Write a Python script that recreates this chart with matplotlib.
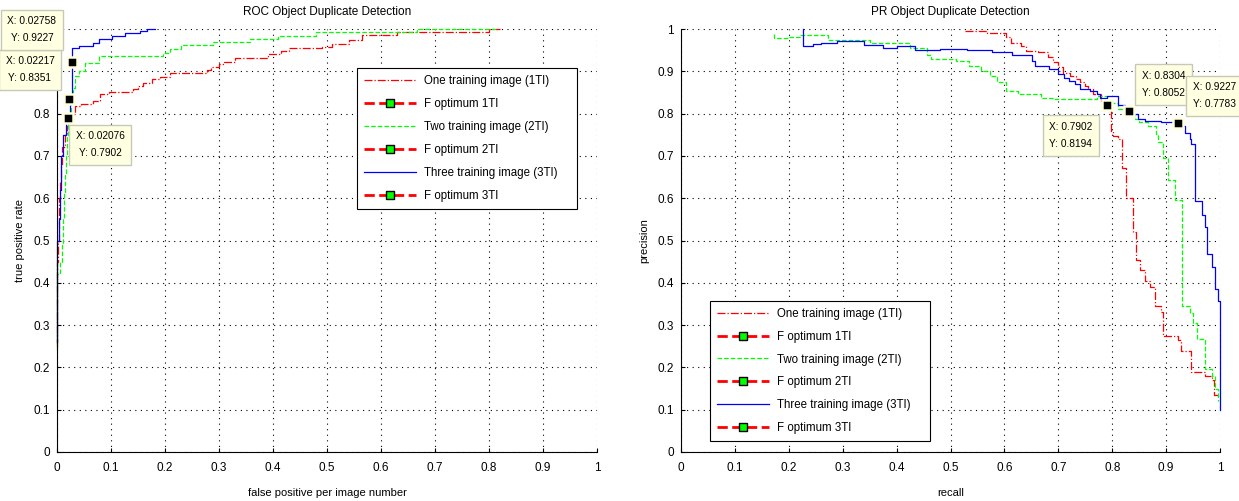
import numpy as np
import matplotlib
matplotlib.use('Agg')
import matplotlib.pyplot as plt

plt.rcParams['font.family'] = ['Liberation Sans', 'DejaVu Sans']
plt.rcParams['font.size'] = 8

# ---- ROC data (false positive per image, true positive rate) ----
roc1_x = [0, 0, 0.002, 0.003, 0.005, 0.007, 0.010, 0.014, 0.018, 0.021, 0.025, 0.033, 0.045, 0.067,
          0.080, 0.096, 0.14, 0.15, 0.16, 0.175, 0.19, 0.21, 0.278, 0.286, 0.30, 0.31, 0.33, 0.39,
          0.415, 0.43, 0.49, 0.51, 0.54, 0.565, 0.63, 0.80, 0.82]
roc1_y = [0.25, 0.45, 0.50, 0.60, 0.64, 0.68, 0.72, 0.75, 0.77, 0.79, 0.80, 0.818, 0.822, 0.83,
          0.846, 0.85, 0.858, 0.866, 0.873, 0.881, 0.887, 0.897, 0.903, 0.909, 0.917, 0.923, 0.931, 0.94,
          0.948, 0.954, 0.957, 0.964, 0.973, 0.986, 0.993, 1.0, 1.0]
roc2_x = [0, 0, 0.005, 0.009, 0.011, 0.013, 0.015, 0.017, 0.019, 0.020, 0.022, 0.026, 0.030, 0.034,
          0.040, 0.052, 0.077, 0.197, 0.21, 0.23, 0.289, 0.357, 0.41, 0.48, 0.667, 0.815]
roc2_y = [0.24, 0.42, 0.45, 0.49, 0.55, 0.61, 0.66, 0.705, 0.75, 0.78, 0.80, 0.835, 0.86, 0.89,
          0.90, 0.92, 0.936, 0.944, 0.952, 0.962, 0.97, 0.976, 0.983, 0.993, 1.0, 1.0]
roc3_x = [0, 0, 0.003, 0.005, 0.008, 0.012, 0.017, 0.022, 0.024, 0.027, 0.040, 0.067, 0.077, 0.101,
          0.126, 0.154, 0.166, 0.181]
roc3_y = [0.26, 0.50, 0.55, 0.62, 0.70, 0.75, 0.78, 0.80, 0.83, 0.955, 0.96, 0.968, 0.976, 0.984,
          0.99, 0.995, 1.0, 1.0]

# ---- PR data (recall, precision) ----
pr1_x = [0.527, 0.567, 0.603, 0.612, 0.631, 0.64, 0.662, 0.68, 0.69, 0.699, 0.709, 0.721, 0.733, 0.74,
         0.749, 0.755, 0.764, 0.779, 0.79, 0.798, 0.802, 0.811, 0.818, 0.826, 0.839, 0.845, 0.852, 0.86,
         0.87, 0.879, 0.89, 0.894, 0.922, 0.927, 0.947, 0.972, 0.985, 0.988, 0.997]
pr1_y = [0.996, 0.99, 0.98, 0.968, 0.96, 0.949, 0.945, 0.933, 0.921, 0.909, 0.897, 0.889, 0.881, 0.874,
         0.866, 0.858, 0.846, 0.83, 0.819, 0.76, 0.747, 0.74, 0.672, 0.60, 0.52, 0.455, 0.43, 0.405,
         0.39, 0.344, 0.33, 0.275, 0.265, 0.238, 0.19, 0.18, 0.17, 0.135, 0.135]
pr2_x = [0.173, 0.173, 0.19, 0.20, 0.221, 0.273, 0.351, 0.40, 0.425, 0.456, 0.463, 0.51, 0.535, 0.556,
         0.574, 0.587, 0.603, 0.625, 0.668, 0.692, 0.771, 0.79, 0.81, 0.825, 0.843, 0.85, 0.866, 0.882,
         0.885, 0.895, 0.904, 0.917, 0.929, 0.944, 0.95, 0.957, 0.972, 0.985, 0.991, 0.997]
pr2_y = [0.988, 0.978, 0.978, 0.98, 0.986, 0.975, 0.966, 0.968, 0.954, 0.938, 0.93, 0.925, 0.913, 0.901,
         0.889, 0.874, 0.854, 0.846, 0.838, 0.834, 0.842, 0.825, 0.81, 0.797, 0.787, 0.779, 0.771, 0.751,
         0.733, 0.695, 0.642, 0.596, 0.346, 0.328, 0.304, 0.268, 0.196, 0.18, 0.15, 0.12]
pr3_x = [0.227, 0.227, 0.245, 0.26, 0.29, 0.34, 0.375, 0.40, 0.435, 0.48, 0.53, 0.577, 0.614, 0.651,
         0.657, 0.683, 0.70, 0.71, 0.72, 0.731, 0.741, 0.759, 0.771, 0.777, 0.79, 0.806, 0.81, 0.823,
         0.836, 0.848, 0.86, 0.89, 0.929, 0.935, 0.944, 0.947, 0.954, 0.966, 0.972, 0.975, 0.985, 0.99,
         0.997, 1.0]
pr3_y = [1.0, 0.96, 0.964, 0.968, 0.972, 0.962, 0.954, 0.96, 0.951, 0.953, 0.951, 0.945, 0.938, 0.925,
         0.913, 0.905, 0.893, 0.885, 0.878, 0.87, 0.858, 0.854, 0.846, 0.838, 0.842, 0.842, 0.82, 0.81,
         0.799, 0.787, 0.783, 0.779, 0.771, 0.755, 0.739, 0.727, 0.593, 0.56, 0.532, 0.468, 0.437, 0.385,
         0.358, 0.1]

# F optimum points (data tips)
roc_fopt_x = [0.02076, 0.02217, 0.02758]
roc_fopt_y = [0.7902, 0.8351, 0.9227]
pr_fopt_x = [0.7902, 0.8304, 0.9227]
pr_fopt_y = [0.8194, 0.8052, 0.7783]

labels = ['One training image (1TI)', 'F optimum 1TI', 'Two training image (2TI)',
          'F optimum 2TI', 'Three training image (3TI)', 'F optimum 3TI']
ticks = np.arange(0, 1.01, 0.1)
tick_labels = ['0', '0.1', '0.2', '0.3', '0.4', '0.5', '0.6', '0.7', '0.8', '0.9', '1']
# 0.9 and 1 sit under the data tips on the ROC y axis
roc_ytick_labels = tick_labels[:9] + ['', '']

W, H = 1239, 501
fig = plt.figure(figsize=(W / 100, H / 100), dpi=100)
ax1 = fig.add_axes([57 / W, 1 - 452 / H, 540 / W, 423 / H])
ax2 = fig.add_axes([681 / W, 1 - 452 / H, 539 / W, 423 / H])


def style(ax, ylabels):
    ax.set_xlim(0, 1)
    ax.set_ylim(0, 1)
    ax.set_xticks(ticks)
    ax.set_yticks(ticks)
    ax.set_xticklabels(tick_labels)
    ax.set_yticklabels(ylabels)
    ax.grid(True, color='k', linestyle=(0, (1, 4)), linewidth=0.8)
    ax.spines['top'].set_visible(False)
    ax.spines['right'].set_visible(False)
    ax.tick_params(direction='in', length=3, width=0.8, labelsize=8.5, pad=5)
    ax.tick_params(axis='x', pad=7)


def datatip(ax, x, y, dx, dy):
    ax.plot(x, y, 's', ms=6.5, mfc='k', mec='#ffffe0', mew=1.8, zorder=9, clip_on=False)
    ax.annotate('X: %s\nY: %s' % (x, y), (x, y), xytext=(dx, dy), textcoords='offset pixels',
                ha='center', va='center', fontsize=7.3, linespacing=1.9, zorder=10,
                annotation_clip=False,
                bbox=dict(boxstyle='square,pad=0.65', fc='#ffffe1', ec='#c8c8b8', lw=1))


def draw(ax, xs, ys, fx, fy):
    styles = [('r', '-.'), ('#00ff00', '--'), ('b', '-')]
    handles = []
    for (c, ls), x, y, px, py in zip(styles, xs, ys, fx, fy):
        l, = ax.plot(x, y, color=c, linestyle=ls, lw=0.9, drawstyle='steps-post', clip_on=False)
        f, = ax.plot([px], [py], color='r', linestyle='--', lw=2, marker='s', ms=6,
                     mfc='#00ff00', mec='k', mew=1)
        handles += [l, f]
    return handles


h1 = draw(ax1, [roc1_x, roc2_x, roc3_x], [roc1_y, roc2_y, roc3_y], roc_fopt_x, roc_fopt_y)
style(ax1, roc_ytick_labels)
ax1.set_title('ROC Object Duplicate Detection', fontsize=8.5, pad=10)
ax1.set_xlabel('false positive per image number', fontsize=8, labelpad=10)
ax1.set_ylabel('true positive rate', fontsize=8, labelpad=6)
datatip(ax1, roc_fopt_x[0], roc_fopt_y[0], 32, -27)
datatip(ax1, roc_fopt_x[1], roc_fopt_y[1], -39, 29)
datatip(ax1, roc_fopt_x[2], roc_fopt_y[2], -40, 32)

h2 = draw(ax2, [pr1_x, pr2_x, pr3_x], [pr1_y, pr2_y, pr3_y], pr_fopt_x, pr_fopt_y)
style(ax2, tick_labels)
ax2.set_title('PR Object Duplicate Detection', fontsize=8.5, pad=10)
ax2.set_xlabel('recall', fontsize=8, labelpad=10)
ax2.set_ylabel('precision', fontsize=8, labelpad=6)
datatip(ax2, pr_fopt_x[0], pr_fopt_y[0], -36, -30)
datatip(ax2, pr_fopt_x[1], pr_fopt_y[1], 35, 27)
datatip(ax2, pr_fopt_x[2], pr_fopt_y[2], 36, 27)

for ax, h, (x0, y0, x1, y1) in [(ax1, h1, (351, 66, 583, 211)), (ax2, h2, (704, 298, 936, 444))]:
    leg = ax.legend(h, labels, loc='center',
                    bbox_to_anchor=(x0 / W, 1 - y1 / H, (x1 - x0) / W, (y1 - y0) / H),
                    bbox_transform=fig.transFigure, mode='expand', fontsize=8.3,
                    handlelength=4.5, handletextpad=0.7, labelspacing=0.95, borderpad=0.6,
                    fancybox=False, framealpha=1, edgecolor='k')
    leg.get_frame().set_linewidth(0.8)
    leg.set_zorder(8)

fig.savefig('out.png', dpi=100)
